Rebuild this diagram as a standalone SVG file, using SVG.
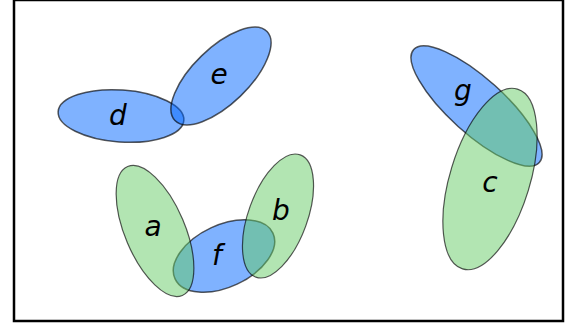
<svg xmlns="http://www.w3.org/2000/svg" width="574" height="328" viewBox="0 0 574 328">
  <style>
    .blue { fill: #0066ff; fill-opacity: 0.5; stroke: #000; stroke-opacity: 0.65; stroke-width: 1.5; }
    .green { fill: #66cc66; fill-opacity: 0.5; stroke: #000; stroke-opacity: 0.65; stroke-width: 1.2; }
    .lbl { font-family: "DejaVu Sans", "Liberation Sans", sans-serif; font-style: italic; font-size: 28px; fill: #000; text-anchor: middle; }
    .frame { fill: #fff; stroke: #000; stroke-width: 2.5; }
  </style>
  <rect x="0" y="0" width="574" height="328" fill="#fff"/>
  <rect class="frame" x="14" y="0" width="549" height="321"/>
  <g id="connectors"></g>
  <g id="d">
    <ellipse class="blue" cx="121" cy="116" rx="63" ry="26" transform="rotate(4 121 116)"/>
    <text class="lbl" x="118" y="125">d</text>
  </g>
  <g id="e">
    <ellipse class="blue" cx="221" cy="76" rx="64" ry="28" transform="rotate(-44 221 76)"/>
    <text class="lbl" x="219" y="84">e</text>
  </g>
  <g id="f">
    <ellipse class="blue" cx="224" cy="256" rx="54" ry="31" transform="rotate(-25 224 256)"/>
    <text class="lbl" x="217" y="265">f</text>
  </g>
  <g id="g">
    <ellipse class="blue" cx="476.5" cy="106" rx="84.5" ry="27.5" transform="rotate(42 476.5 106)"/>
    <text class="lbl" x="463" y="100">g</text>
  </g>
  <g id="a">
    <ellipse class="green" cx="155" cy="231" rx="70" ry="30" transform="rotate(67 155 231)"/>
    <text class="lbl" x="153" y="236">a</text>
  </g>
  <g id="b">
    <ellipse class="green" cx="278" cy="216" rx="65" ry="29.5" transform="rotate(-70 278 216)"/>
    <text class="lbl" x="281" y="220">b</text>
  </g>
  <g id="c">
    <ellipse class="green" cx="490" cy="179" rx="94" ry="40" transform="rotate(-73 490 179)"/>
    <text class="lbl" x="490" y="192">c</text>
  </g>
</svg>
